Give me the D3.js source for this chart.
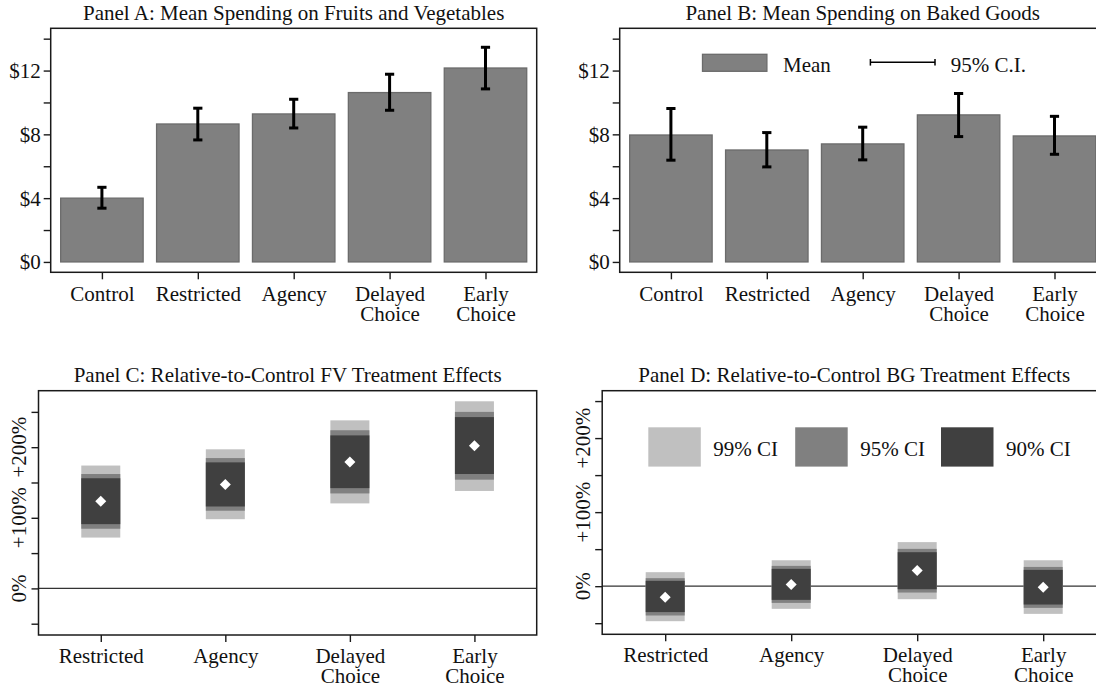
<!DOCTYPE html>
<html>
<head>
<meta charset="utf-8">
<script src="https://cdn.jsdelivr.net/npm/d3@7"></script>
<style>
  html, body { margin: 0; padding: 0; background: #fff; }
  svg { display: block; font-family: "Liberation Serif", "DejaVu Serif", serif; }
</style>
</head>
<body>
<svg id="chart" width="1096" height="690"></svg>
<script>
// ---- Panels A and B: mean spending by treatment arm ----
const armsAB = ["Control", "Restricted", "Agency", "Delayed Choice", "Early Choice"];

const fvMean = [4.00, 8.65, 9.28, 10.62, 12.16];
const fvLow  = [3.37, 7.65, 8.40, 9.51, 10.85];
const fvHigh = [4.68, 9.64, 10.20, 11.77, 13.46];

const bgMean = [7.96, 7.02, 7.40, 9.22, 7.90];
const bgLow  = [6.38, 5.96, 6.40, 7.86, 6.75];
const bgHigh = [9.62, 8.11, 8.45, 10.56, 9.13];

const dollarTicks = [0, 4, 8, 12];
const dollarMinor = [2, 6, 10, 14];
const dollarLabels = ["$0", "$4", "$8", "$12"];

// ---- Panels C and D: treatment effects relative to control (%) ----
const armsCD = ["Restricted", "Agency", "Delayed Choice", "Early Choice"];

const fvEffect = [123.6, 147.0, 179.0, 202.0];
const fvLo90 = [91.0, 116.0, 142.0, 162.0];
const fvHi90 = [156.0, 178.5, 216.7, 242.6];
const fvLo95 = [84.5, 110.0, 134.5, 154.0];
const fvHi95 = [162.0, 184.6, 224.0, 250.0];
const fvLo99 = [72.0, 98.0, 120.4, 138.0];
const fvHi99 = [174.0, 197.0, 238.0, 265.0];

const bgEffect = [-14.9, 2.2, 21.1, -1.4];
const bgLo90 = [-35.0, -18.5, -4.1, -24.8];
const bgHi90 = [7.2, 23.4, 45.9, 22.0];
const bgLo95 = [-39.6, -22.6, -8.6, -29.3];
const bgHi95 = [10.8, 27.4, 50.4, 26.0];
const bgLo99 = [-47.3, -30.6, -17.6, -37.4];
const bgHi99 = [18.9, 35.0, 59.5, 35.0];

const pctTicks = [0, 100, 200];
const pctMinor = [-50, 50, 150, 250];
const pctLabels = ["0%", "+100%", "+200%"];

const ciLevels = ["99% CI", "95% CI", "90% CI"];
const ciColors = ["#c0c0c0", "#808080", "#404040"];

const svg = d3.select("#chart");
svg.append("rect").attr("width", 1096).attr("height", 690).attr("fill", "#fff");

const FONT = 21;
const INK = "#111";
const AXIS = "#1a1a1a";

// split multi-word category names over two lines
function wrapLabel(sel, lineHeight) {
  sel.each(function () {
    const t = d3.select(this);
    const words = t.text().split(" ");
    t.text(null);
    words.forEach((w, i) => {
      t.append("tspan").attr("x", 0).attr("dy", i === 0 ? 0 : lineHeight).text(w);
    });
  });
}

function styleAxis(a) {
  a.attr("font-family", null).attr("font-size", null);
  a.select(".domain").remove();
  a.selectAll(".tick line").attr("stroke", AXIS).attr("stroke-width", 1.4);
}

function frame(g, x0, x1, y0, y1) {
  g.append("rect")
    .attr("x", x0).attr("y", y0)
    .attr("width", x1 - x0).attr("height", y1 - y0)
    .attr("fill", "none").attr("stroke", AXIS).attr("stroke-width", 1.5);
}

function title(g, text, cx, y) {
  g.append("text").attr("x", cx).attr("y", y)
    .attr("text-anchor", "middle").attr("font-size", FONT)
    .attr("fill", INK).text(text);
}

function xAxis(g, scale, y, labelY) {
  const a = g.append("g").attr("transform", `translate(0,${y})`)
    .call(d3.axisBottom(scale).tickSize(7).tickSizeOuter(0));
  styleAxis(a);
  a.selectAll(".tick text")
    .attr("y", labelY - y).attr("dy", 0)
    .attr("font-size", FONT).attr("fill", INK)
    .call(wrapLabel, 20);
}

function minorTicks(g, y, x0, values) {
  const a = g.append("g").attr("transform", `translate(${x0},0)`)
    .call(d3.axisLeft(y).tickValues(values).tickFormat("").tickSize(7));
  styleAxis(a);
}

// ---------- Bar panels (means with 95% CI) ----------
function barPanel(opts) {
  const g = svg.append("g");
  const { x0, x1, y0, y1, mean, low, high, name } = opts;

  const x = d3.scaleBand().domain(armsAB).range([x0, x1])
    .paddingInner(0.14).paddingOuter(0.104);
  const y = d3.scaleLinear().domain([-0.65, 14.65]).range([y1, y0]);
  const c = d3.scalePoint().domain(armsAB)
    .range([x(armsAB[0]) + x.bandwidth() / 2, x(armsAB[armsAB.length - 1]) + x.bandwidth() / 2]);

  const ya = g.append("g").attr("transform", `translate(${x0},0)`)
    .call(d3.axisLeft(y).tickValues(dollarTicks)
      .tickFormat((d, i) => dollarLabels[i]).tickSize(7).tickPadding(3));
  styleAxis(ya);
  ya.selectAll(".tick text").attr("font-size", FONT).attr("fill", INK).attr("dy", "0.33em");
  minorTicks(g, y, x0, dollarMinor);

  g.selectAll("rect.bar").data(armsAB).join("rect").attr("class", "bar")
    .attr("x", d => x(d)).attr("width", x.bandwidth())
    .attr("y", (d, i) => y(mean[i]))
    .attr("height", (d, i) => y(0) - y(mean[i]))
    .attr("fill", "#808080").attr("stroke", "#6b6b6b").attr("stroke-width", 1.3);

  const cap = 4.6;
  const eb = g.selectAll("g.err").data(armsAB).join("g").attr("class", "err")
    .attr("stroke", "#000").attr("stroke-width", 3);
  eb.append("line").attr("x1", d => c(d)).attr("x2", d => c(d))
    .attr("y1", (d, i) => y(low[i])).attr("y2", (d, i) => y(high[i]));
  eb.append("line").attr("x1", d => c(d) - cap).attr("x2", d => c(d) + cap)
    .attr("y1", (d, i) => y(high[i])).attr("y2", (d, i) => y(high[i]));
  eb.append("line").attr("x1", d => c(d) - cap).attr("x2", d => c(d) + cap)
    .attr("y1", (d, i) => y(low[i])).attr("y2", (d, i) => y(low[i]));

  xAxis(g, c, y1, y1 + 29);
  frame(g, x0, x1, y0, y1);
  title(g, name, (x0 + x1) / 2, y0 - 8.5);
  return { g, x, y };
}

// ---------- Treatment-effect panels (estimate with 90/95/99% CIs) ----------
function effectPanel(opts) {
  const g = svg.append("g");
  const { x0, x1, y0, y1, dom, eff, bounds, name } = opts;

  const x = d3.scalePoint().domain(armsCD).range([x0, x1]).padding(0.5);
  const y = d3.scaleLinear().domain(dom).range([y1, y0]);

  minorTicks(g, y, x0, pctTicks);
  minorTicks(g, y, x0, pctMinor);

  // rotated tick labels
  g.selectAll("text.ylab").data(pctTicks).join("text").attr("class", "ylab")
    .attr("transform", d => `translate(${x0 - 19},${y(d)}) rotate(-90)`)
    .attr("text-anchor", "middle").attr("dy", "0.33em")
    .attr("font-size", FONT).attr("fill", INK)
    .text((d, i) => pctLabels[i]);

  // zero reference line
  g.append("line").attr("x1", x0).attr("x2", x1)
    .attr("y1", y(0)).attr("y2", y(0))
    .attr("stroke", "#333").attr("stroke-width", 1.3);

  // nested interval boxes: 99%, 95%, 90%
  const bw = 39;
  bounds.forEach((b, k) => {
    g.selectAll(`rect.ci${k}`).data(armsCD).join("rect").attr("class", `ci${k}`)
      .attr("x", d => x(d) - bw / 2).attr("width", bw)
      .attr("y", (d, i) => y(b.hi[i]))
      .attr("height", (d, i) => y(b.lo[i]) - y(b.hi[i]))
      .attr("fill", ciColors[k]);
  });

  // point estimates
  const r = 5.5;
  g.selectAll("path.est").data(armsCD).join("path").attr("class", "est")
    .attr("d", (d, i) => {
      const px = x(d), py = y(eff[i]);
      return `M${px},${py - r}L${px + r},${py}L${px},${py + r}L${px - r},${py}Z`;
    })
    .attr("fill", "#fff");

  xAxis(g, x, y1, y1 + 28);
  frame(g, x0, x1, y0, y1);
  title(g, name, (x0 + x1) / 2, y0 - 9);
  return { g, x, y };
}

// Panel A
barPanel({
  x0: 50.7, x1: 536.7, y0: 28.3, y1: 272.3,
  mean: fvMean, low: fvLow, high: fvHigh,
  name: "Panel A: Mean Spending on Fruits and Vegetables"
});

// Panel B
barPanel({
  x0: 619.7, x1: 1105.7, y0: 28.3, y1: 272.3,
  mean: bgMean, low: bgLow, high: bgHigh,
  name: "Panel B: Mean Spending on Baked Goods"
});

// Panel B legend
const lg = svg.append("g");
lg.append("rect").attr("x", 702.5).attr("y", 54.3).attr("width", 64.4).attr("height", 17)
  .attr("fill", "#808080").attr("stroke", "#6b6b6b").attr("stroke-width", 1.3);
lg.append("text").attr("x", 783).attr("y", 71.5).attr("font-size", FONT).attr("fill", INK).text("Mean");
lg.append("g").attr("stroke", "#000").attr("stroke-width", 1.5).call(s => {
  s.append("line").attr("x1", 870.4).attr("x2", 935).attr("y1", 62.3).attr("y2", 62.3);
  s.append("line").attr("x1", 870.4).attr("x2", 870.4).attr("y1", 59).attr("y2", 65.6);
  s.append("line").attr("x1", 935).attr("x2", 935).attr("y1", 59).attr("y2", 65.6);
});
lg.append("text").attr("x", 950.8).attr("y", 72).attr("font-size", FONT).attr("fill", INK).text("95% C.I.");

// Panel C
effectPanel({
  x0: 38.5, x1: 536.7, y0: 390.7, y1: 635, dom: [-66, 280],
  eff: fvEffect,
  bounds: [
    { lo: fvLo99, hi: fvHi99 },
    { lo: fvLo95, hi: fvHi95 },
    { lo: fvLo90, hi: fvHi90 }
  ],
  name: "Panel C: Relative-to-Control FV Treatment Effects"
});

// Panel D
effectPanel({
  x0: 602.2, x1: 1106.2, y0: 390.7, y1: 634.3, dom: [-65, 264],
  eff: bgEffect,
  bounds: [
    { lo: bgLo99, hi: bgHi99 },
    { lo: bgLo95, hi: bgHi95 },
    { lo: bgLo90, hi: bgHi90 }
  ],
  name: "Panel D: Relative-to-Control BG Treatment Effects"
});

// Panel D legend
const legX = [648.3, 795.2, 941];
const dl = svg.append("g");
ciLevels.forEach((lab, k) => {
  dl.append("rect").attr("x", legX[k]).attr("y", 427.3).attr("width", 52.5).attr("height", 39.3)
    .attr("fill", ciColors[k]);
  dl.append("text").attr("x", legX[k] + 65).attr("y", 456).attr("font-size", FONT)
    .attr("fill", INK).text(lab);
});
</script>
</body>
</html>
